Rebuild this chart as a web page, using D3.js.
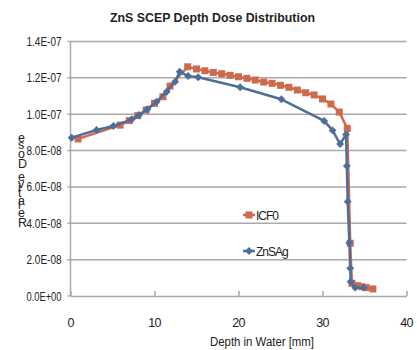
<!DOCTYPE html>
<html><head><meta charset="utf-8">
<script src="https://cdn.jsdelivr.net/npm/d3@7"></script>
<style>body{margin:0;background:#fff}svg{display:block}text{font-family:"Liberation Sans",Arial,sans-serif}</style>
</head><body>
<svg id="c" width="417" height="350"></svg>
<script>
const title = "ZnS SCEP Depth Dose Distribution";
const xTitle = "Depth in Water [mm]";
const yTitle = "Relative Dose";
const seriesNames = ["ICF0", "ZnSAg"];
const xTicks = [0, 10, 20, 30, 40];
const yTicks = [0, 2e-8, 4e-8, 6e-8, 8e-8, 1e-7, 1.2e-7, 1.4e-7];
const yTickLabels = ["0.0E+00","2.0E-08","4.0E-08","6.0E-08","8.0E-08","1.0E-07","1.2E-07","1.4E-07"];

const icfDepth = [0.9, 5.9, 7.0, 8.0, 9.0, 10.0, 11.0, 11.85, 13.95, 15, 16, 17, 18, 19, 20, 21, 22, 23, 24, 25, 26, 27, 28, 29, 30, 31, 32, 32.95, 33.3, 33.5, 34.2, 34.7, 35.2, 36.0];
const icfDose = [8.64e-8, 9.40e-8, 9.65e-8, 9.92e-8, 1.023e-7, 1.06e-7, 1.096e-7, 1.155e-7, 1.261e-7, 1.249e-7, 1.239e-7, 1.230e-7, 1.223e-7, 1.214e-7, 1.206e-7, 1.197e-7, 1.188e-7, 1.177e-7, 1.170e-7, 1.159e-7, 1.148e-7, 1.133e-7, 1.118e-7, 1.106e-7, 1.084e-7, 1.056e-7, 1.012e-7, 9.22e-8, 2.9e-8, 7.0e-9, 5.7e-9, 5.1e-9, 4.6e-9, 3.9e-9];

const znsDepth = [0.14, 3.1, 5.1, 7.3, 8.15, 9.15, 10.25, 11.45, 12.45, 13.0, 14.0, 15.2, 20.2, 25.1, 30.2, 31.2, 32.1, 32.8, 32.9, 33.0, 33.2, 33.3, 33.35, 33.9, 34.9];
const znsDose = [8.71e-8, 9.13e-8, 9.35e-8, 9.72e-8, 9.96e-8, 1.027e-7, 1.069e-7, 1.124e-7, 1.179e-7, 1.234e-7, 1.210e-7, 1.203e-7, 1.148e-7, 1.082e-7, 9.63e-8, 9.11e-8, 8.36e-8, 8.89e-8, 7.15e-8, 5.19e-8, 2.93e-8, 1.52e-8, 7.9e-9, 4.6e-9, 4.6e-9];

const colors = ["#CD6A4E", "#4D6D9B"];
const svg = d3.select("#c");
const L = 70.5, R = 406.5, T = 41.5, B = 296;
const x = d3.scaleLinear().domain([0, 40]).range([L, R]);
const y = d3.scaleLinear().domain([0, 1.4e-7]).range([B, T]);
const grid = "#A9A9A9";

// gridlines
svg.append("g").selectAll("line").data(yTicks.slice(1)).join("line")
  .attr("x1", L - 3).attr("x2", R).attr("y1", d => y(d)).attr("y2", d => y(d))
  .attr("stroke", grid).attr("stroke-width", 1.5);
// y axis line
svg.append("line").attr("x1", L).attr("x2", L).attr("y1", T).attr("y2", B).attr("stroke", grid).attr("stroke-width", 1.5);
// x axis
const xa = svg.append("g").attr("transform", `translate(0,${B})`)
  .call(d3.axisBottom(x).tickValues(xTicks).tickSizeInner(-5).tickSizeOuter(0).tickFormat(""));
xa.select(".domain").attr("stroke", grid).attr("stroke-width", 1.5);
xa.selectAll(".tick line").attr("stroke", grid).attr("stroke-width", 1.5);
svg.append("line").attr("x1", L - 3).attr("x2", L).attr("y1", B).attr("y2", B).attr("stroke", grid).attr("stroke-width", 1.5);

// x tick labels
svg.append("g").selectAll("text").data(xTicks).join("text")
  .attr("x", d => x(d)).attr("y", 327).attr("text-anchor", "middle")
  .attr("font-size", 12.5).attr("fill", "#222").attr("letter-spacing", -0.8).text(d => d);
// y tick labels
svg.append("g").selectAll("text").data(yTicks).join("text")
  .attr("x", 61.5).attr("y", d => y(d) + 4.5).attr("text-anchor", "end")
  .attr("font-size", 12).attr("fill", "#222")
  .attr("textLength", 35).attr("lengthAdjust", "spacingAndGlyphs")
  .text((d, i) => yTickLabels[i]);

// title
svg.append("text").attr("x", 110).attr("y", 22).attr("font-size", 13).attr("font-weight", "bold").attr("fill", "#222")
  .attr("textLength", 205).attr("lengthAdjust", "spacingAndGlyphs").text(title);
// x title
svg.append("text").attr("x", 210).attr("y", 346).attr("font-size", 12).attr("fill", "#222")
  .attr("textLength", 104).attr("lengthAdjust", "spacingAndGlyphs").text(xTitle);
// y title: rotated text with upright (counter-rotated) glyphs
svg.append("text").attr("transform", "translate(18,227) rotate(-90)")
  .attr("font-size", 12.5).attr("fill", "#222").attr("rotate", 90)
  .attr("textLength", 92).attr("lengthAdjust", "spacing").text(yTitle);

// lines
const line = d3.line().x(d => x(d[0])).y(d => y(d[1]));
const icf = icfDepth.map((d, i) => [d, icfDose[i]]);
const zns = znsDepth.map((d, i) => [d, znsDose[i]]);

svg.append("path").datum(icf).attr("d", line).attr("fill", "none").attr("stroke", colors[0]).attr("stroke-width", 2.5).attr("stroke-linejoin", "round");
svg.append("g").selectAll("rect").data(icf).join("rect")
  .attr("x", d => x(d[0]) - 3.5).attr("y", d => y(d[1]) - 3.5).attr("width", 7).attr("height", 7).attr("fill", colors[0]);

svg.append("path").datum(zns).attr("d", line).attr("fill", "none").attr("stroke", colors[1]).attr("stroke-width", 2.5).attr("stroke-linejoin", "round");
const diamond = d3.symbol().type(d3.symbolDiamond2).size(40);
svg.append("g").selectAll("path").data(zns).join("path")
  .attr("d", diamond).attr("transform", d => `translate(${x(d[0])},${y(d[1])})`).attr("fill", colors[1]);

// legend
const leg = [{n: seriesNames[0], c: colors[0], yy: 215, m: "sq"}, {n: seriesNames[1], c: colors[1], yy: 251, m: "di"}];
leg.forEach(l => {
  svg.append("line").attr("x1", 243).attr("x2", 255).attr("y1", l.yy).attr("y2", l.yy).attr("stroke", l.c).attr("stroke-width", 2.5);
  if (l.m === "sq") svg.append("rect").attr("x", 249 - 3.5).attr("y", l.yy - 3.5).attr("width", 7).attr("height", 7).attr("fill", l.c);
  else svg.append("path").attr("d", diamond).attr("transform", `translate(249,${l.yy})`).attr("fill", l.c);
  svg.append("text").attr("x", 256).attr("y", l.yy + 4.5).attr("font-size", 12).attr("fill", "#222").attr("letter-spacing", -1).text(l.n);
});
</script>
</body></html>
